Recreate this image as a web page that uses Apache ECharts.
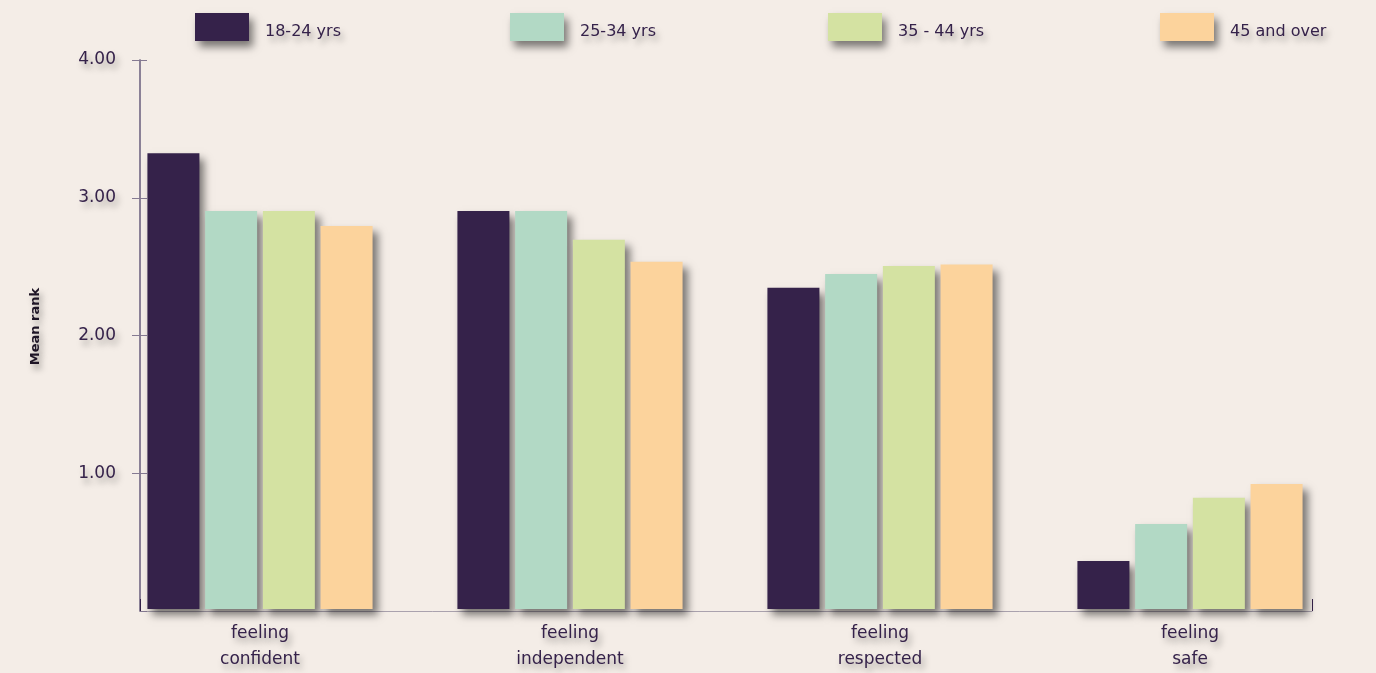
<!DOCTYPE html>
<html>
<head>
<meta charset="utf-8">
<style>
  html, body { margin: 0; padding: 0; background: #f4ede7; }
  #chart { width: 1376px; height: 673px; }
</style>
<script src="https://cdn.jsdelivr.net/npm/echarts@6/dist/echarts.min.js"></script>
</head>
<body>
<div id="chart"></div>
<script>
// Mean rank of each feeling, by age group
const categories = ['feeling\nconfident', 'feeling\nindependent', 'feeling\nrespected', 'feeling\nsafe'];
const ageGroups = ['18-24 yrs', '25-34 yrs', '35 - 44 yrs', '45 and over'];
const age18to24 = [3.32, 2.90, 2.34, 0.35];
const age25to34 = [2.90, 2.90, 2.44, 0.62];
const age35to44 = [2.90, 2.69, 2.50, 0.81];
const age45plus = [2.79, 2.53, 2.51, 0.91];
const yTicks = [0, 1, 2, 3, 4];

const colors = ['#35224a', '#b2d9c5', '#d4e2a2', '#fcd39c'];
const seriesValues = [age18to24, age25to34, age35to44, age45plus];
const legendLeft = [195, 510, 828, 1160];
const ink = '#35224a';
const axisInk = '#857a92';
const font = 'DejaVu Sans';

const textShadow = {
  textShadowColor: 'rgba(0,0,0,0.35)',
  textShadowBlur: 6,
  textShadowOffsetX: 3,
  textShadowOffsetY: 5
};

const chart = echarts.init(document.getElementById('chart'), null, { renderer: 'canvas' });

chart.setOption({
  backgroundColor: '#f4ede7',
  animation: false,
  // one legend box per age group, spread across the top
  legend: ageGroups.map(function (name, i) {
    return {
      data: [name],
      left: legendLeft[i],
      top: 13,
      padding: 0,
      itemWidth: 54,
      itemHeight: 28,
      icon: 'rect',
      formatter: '{t|{name}}',
      textStyle: {
        rich: {
          t: Object.assign({
            color: ink, fontFamily: font, fontSize: 16, padding: [9, 0, 0, 11]
          }, textShadow)
        }
      },
      itemStyle: {
        shadowColor: 'rgba(0,0,0,0.5)',
        shadowBlur: 8,
        shadowOffsetX: 4,
        shadowOffsetY: 6
      }
    };
  }),
  grid: [
    // bars
    { left: 105, right: 31, top: 60, bottom: 62 },
    // visible axes
    { left: 140, right: 64, top: 60, bottom: 62 },
    // short ticks on the inner side of the value axis
    { left: 140, right: 64, top: 60, bottom: 62 }
  ],
  xAxis: [
    {
      gridIndex: 0,
      type: 'category',
      data: categories,
      axisLine: { show: false },
      axisTick: { show: false },
      axisLabel: Object.assign({
        color: ink, fontFamily: font, fontSize: 17, lineHeight: 26, margin: 12
      }, textShadow)
    },
    {
      gridIndex: 1,
      type: 'value',
      min: 0, max: 1, interval: 1,
      axisLine: { show: true, lineStyle: { color: '#aaa2ae', width: 1 } },
      axisTick: { show: true, inside: true, length: 12, lineStyle: { color: ink, width: 1 } },
      axisLabel: { show: false },
      splitLine: { show: false }
    },
    {
      gridIndex: 2,
      type: 'value',
      min: 0, max: 1,
      show: false
    }
  ],
  yAxis: [
    {
      gridIndex: 0,
      type: 'value',
      min: yTicks[0], max: yTicks[yTicks.length - 1], interval: 1,
      show: false
    },
    {
      gridIndex: 1,
      type: 'value',
      position: 'left',
      min: yTicks[0], max: yTicks[yTicks.length - 1], interval: 1,
      name: 'Mean rank',
      nameLocation: 'middle',
      nameGap: 98,
      nameRotate: 90,
      nameTextStyle: Object.assign({
        color: '#1e1526', fontFamily: font, fontSize: 13, fontWeight: 'bold', padding: [0, 0, 0, 18]
      }, textShadow),
      axisLine: { show: true, lineStyle: { color: axisInk, width: 1.5 } },
      axisTick: { show: true, length: 8, customValues: yTicks.slice(1), lineStyle: { color: axisInk } },
      axisLabel: Object.assign({
        color: ink, fontFamily: font, fontSize: 17, margin: 24,
        customValues: yTicks.slice(1),
        formatter: function (v) { return v.toFixed(2); }
      }, textShadow),
      splitLine: { show: false }
    },
    {
      gridIndex: 2,
      type: 'value',
      position: 'left',
      min: yTicks[0], max: yTicks[yTicks.length - 1], interval: 1,
      axisLine: { show: true, lineStyle: { color: axisInk, width: 1.5 } },
      axisTick: { show: true, inside: true, length: 7, lineStyle: { color: axisInk } },
      axisLabel: { show: false },
      splitLine: { show: false }
    }
  ],
  series: ageGroups.map(function (name, i) {
    return {
      name: name,
      type: 'bar',
      xAxisIndex: 0,
      yAxisIndex: 0,
      data: seriesValues[i],
      barWidth: 52,
      barGap: '11%',
      itemStyle: {
        color: colors[i],
        shadowColor: 'rgba(0,0,0,0.5)',
        shadowBlur: 8,
        shadowOffsetX: 5,
        shadowOffsetY: 6
      }
    };
  })
});
</script>
</body>
</html>
